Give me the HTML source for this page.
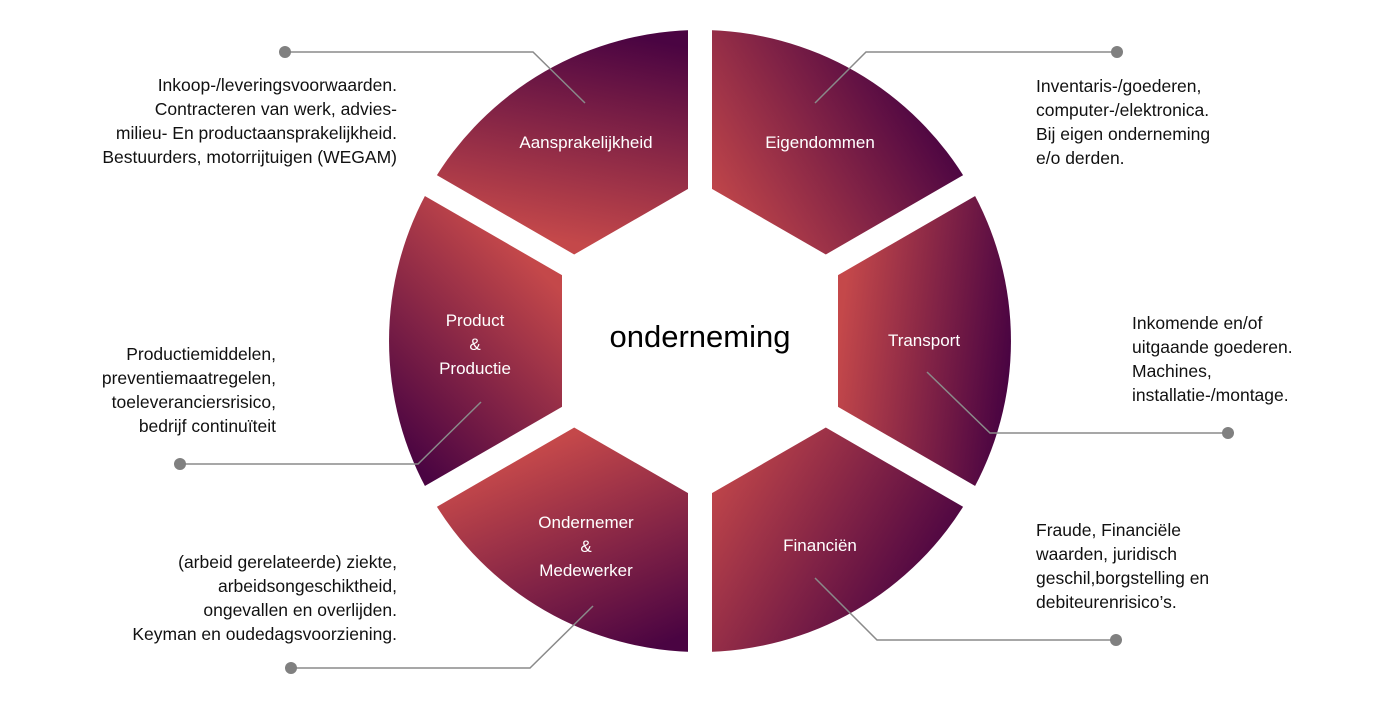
<!DOCTYPE html>
<html><head><meta charset="utf-8"><style>html,body{margin:0;padding:0;background:#fff}svg{display:block}</style></head>
<body>
<svg width="1400" height="713" viewBox="0 0 1400 713" xmlns="http://www.w3.org/2000/svg" font-family="Liberation Sans, Arial, sans-serif">
<defs>
<linearGradient id="g1" gradientUnits="userSpaceOnUse" x1="610" y1="250" x2="650" y2="40"><stop offset="0" stop-color="#c4484a"/><stop offset="1" stop-color="#4a0442"/></linearGradient>
<linearGradient id="g2" gradientUnits="userSpaceOnUse" x1="715" y1="215" x2="920" y2="90"><stop offset="0" stop-color="#c4484a"/><stop offset="1" stop-color="#4a0442"/></linearGradient>
<linearGradient id="g3" gradientUnits="userSpaceOnUse" x1="840" y1="330" x2="1010" y2="350"><stop offset="0" stop-color="#c4484a"/><stop offset="1" stop-color="#4a0442"/></linearGradient>
<linearGradient id="g4" gradientUnits="userSpaceOnUse" x1="715" y1="460" x2="930" y2="590"><stop offset="0" stop-color="#c4484a"/><stop offset="1" stop-color="#4a0442"/></linearGradient>
<linearGradient id="g5" gradientUnits="userSpaceOnUse" x1="560" y1="440" x2="650" y2="650"><stop offset="0" stop-color="#c4484a"/><stop offset="1" stop-color="#4a0442"/></linearGradient>
<linearGradient id="g6" gradientUnits="userSpaceOnUse" x1="560" y1="290" x2="400" y2="450"><stop offset="0" stop-color="#c4484a"/><stop offset="1" stop-color="#4a0442"/></linearGradient>
</defs>
<!-- sectors: center 700,341 r 311 -->
<path d="M700,341 L700,30 A311,311 0 0 0 430.7,185.5 Z" fill="url(#g1)"/>
<path d="M700,341 L700,30 A311,311 0 0 1 969.3,185.5 Z" fill="url(#g2)"/>
<path d="M700,341 L969.3,185.5 A311,311 0 0 1 969.3,496.5 Z" fill="url(#g3)"/>
<path d="M700,341 L969.3,496.5 A311,311 0 0 1 700,652 Z" fill="url(#g4)"/>
<path d="M700,341 L700,652 A311,311 0 0 1 430.7,496.5 Z" fill="url(#g5)"/>
<path d="M700,341 L430.7,496.5 A311,311 0 0 1 430.7,185.5 Z" fill="url(#g6)"/>
<!-- inner hexagon -->
<polygon points="700,182 838,261.5 838,420.5 700,500 562,420.5 562,261.5" fill="#fff"/>
<!-- gaps -->
<g stroke="#fff" stroke-width="24">
<line x1="700" y1="20" x2="700" y2="662"/>
<line x1="420" y1="179.3" x2="980" y2="502.7"/>
<line x1="420" y1="502.7" x2="980" y2="179.3"/>
</g>
<!-- connectors -->
<g stroke="#8a8a8a" stroke-width="1.5" fill="none">
<polyline points="285,52 533,52 585,103"/>
<polyline points="1117,52 866,52 815,103"/>
<polyline points="927,372 990,433 1228,433"/>
<polyline points="481,402 418,464 180,464"/>
<polyline points="593,606 530,668 291,668"/>
<polyline points="815,578 877,640 1116,640"/>
</g>
<g fill="#808080">
<circle cx="285" cy="52" r="6"/><circle cx="1117" cy="52" r="6"/><circle cx="1228" cy="433" r="6"/>
<circle cx="180" cy="464" r="6"/><circle cx="291" cy="668" r="6"/><circle cx="1116" cy="640" r="6"/>
</g>
<!-- segment labels -->
<g fill="#fff" font-size="17" text-anchor="middle">
<text x="586" y="148">Aansprakelijkheid</text>
<text x="820" y="148">Eigendommen</text>
<text x="924" y="346">Transport</text>
<text x="820" y="551">Financiën</text>
<text x="586" y="528">Ondernemer</text><text x="586" y="552">&amp;</text><text x="586" y="576">Medewerker</text>
<text x="475" y="326">Product</text><text x="475" y="350">&amp;</text><text x="475" y="374">Productie</text>
</g>
<text x="700" y="347" font-size="31" text-anchor="middle" fill="#000">onderneming</text>
<!-- descriptions -->
<g fill="#111" font-size="17.5">
<g text-anchor="end">
<text x="397" y="91">Inkoop-/leveringsvoorwaarden.</text>
<text x="397" y="115">Contracteren van werk, advies-</text>
<text x="397" y="139">milieu- En productaansprakelijkheid.</text>
<text x="397" y="163">Bestuurders, motorrijtuigen (WEGAM)</text>
<text x="276" y="360">Productiemiddelen,</text>
<text x="276" y="384">preventiemaatregelen,</text>
<text x="276" y="408">toeleveranciersrisico,</text>
<text x="276" y="432">bedrijf continuïteit</text>
<text x="397" y="568">(arbeid gerelateerde) ziekte,</text>
<text x="397" y="592">arbeidsongeschiktheid,</text>
<text x="397" y="616">ongevallen en overlijden.</text>
<text x="397" y="640">Keyman en oudedagsvoorziening.</text>
</g>
<text x="1036" y="92">Inventaris-/goederen,</text>
<text x="1036" y="116">computer-/elektronica.</text>
<text x="1036" y="140">Bij eigen onderneming</text>
<text x="1036" y="164">e/o derden.</text>
<text x="1132" y="329">Inkomende en/of</text>
<text x="1132" y="353">uitgaande goederen.</text>
<text x="1132" y="377">Machines,</text>
<text x="1132" y="401">installatie-/montage.</text>
<text x="1036" y="536">Fraude, Financiële</text>
<text x="1036" y="560">waarden, juridisch</text>
<text x="1036" y="584">geschil,borgstelling en</text>
<text x="1036" y="608">debiteurenrisico’s.</text>
</g>
</svg>
</body></html>
